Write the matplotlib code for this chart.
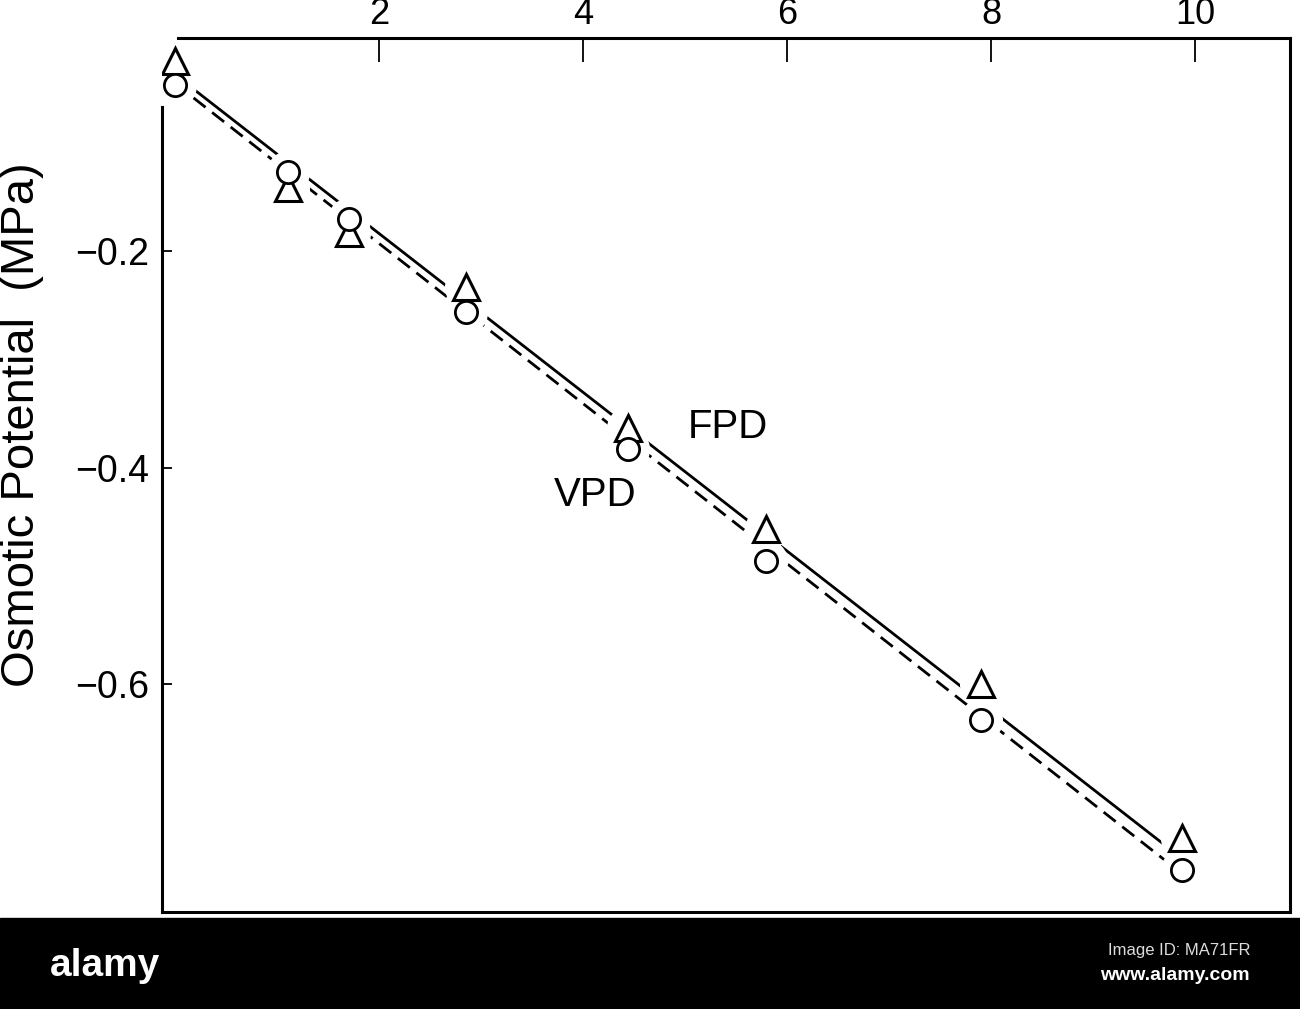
import matplotlib.pyplot as plt
from matplotlib.ticker import FixedLocator, FixedFormatter

plt.rcParams['font.family'] = ['Liberation Sans', 'DejaVu Sans']

# Points
conc = [0.0, 1.11, 1.71, 2.85, 4.44, 5.79, 7.90, 9.87]
fpd = [-0.024, -0.142, -0.183, -0.233, -0.363, -0.457, -0.600, -0.742]
vpd = [-0.047, -0.127, -0.170, -0.256, -0.383, -0.486, -0.633, -0.772]

# fitted lines (end points)
fpd_fit_x = [0.0, 9.87]
fpd_fit_y = [-0.037, -0.761]
vpd_fit_x = [0.0, 9.87]
vpd_fit_y = [-0.045, -0.775]

xticks = [2, 4, 6, 8, 10]
yticks = [-0.2, -0.4, -0.6]
ytick_labels = ['\u22120.2', '\u22120.4', '\u22120.6']

fig = plt.figure(figsize=(13, 10.09), dpi=100)
ax = fig.add_axes([0.1246, 0.0961, 0.8677, 0.8662])

ax.plot(fpd_fit_x, fpd_fit_y, color='black', lw=2.0, zorder=2)
ax.plot(vpd_fit_x, vpd_fit_y, color='black', lw=2.0, dashes=(5.5, 3), zorder=2)

# white halo around each point so the lines break there
ax.plot(conc, fpd, ls='none', marker='o', ms=30, mfc='white', mec='white', zorder=3)
ax.plot(conc, vpd, ls='none', marker='o', ms=30, mfc='white', mec='white', zorder=3)

ax.plot(conc, fpd, ls='none', marker='^', ms=19, mfc='white', mec='black', mew=2.2, zorder=4)
ax.plot(conc, vpd, ls='none', marker='o', ms=16, mfc='white', mec='black', mew=2.0, zorder=4)

ax.text(5.42, -0.3626, 'FPD', fontsize=29, ha='center', va='center')
ax.text(4.12, -0.4254, 'VPD', fontsize=29, ha='center', va='center')

ax.set_xlim(-0.127, 10.93)
ax.set_ylim(-0.8106, -0.0032)

ax.xaxis.set_ticks_position('top')
ax.xaxis.set_major_locator(FixedLocator(xticks))
ax.tick_params(axis='x', direction='in', length=17, width=1.3, pad=4, labelsize=26)
ax.yaxis.set_major_locator(FixedLocator(yticks))
ax.yaxis.set_major_formatter(FixedFormatter(ytick_labels))
ax.tick_params(axis='y', direction='in', length=7, width=1.3, pad=9, labelsize=27)

for s in ax.spines.values():
    s.set_linewidth(2.2)
ax.spines['left'].set_bounds(-0.8106, -0.067)
ax.spines['top'].set_bounds(0.03, 10.93)

fig.text(0.017, 0.5788, 'Osmotic Potential  (MPa)', rotation=90, fontsize=34,
         ha='center', va='center')

# stock photo banner at the bottom
fig.patches.append(plt.Rectangle((0, 0), 1, 91 / 1009, transform=fig.transFigure,
                                 color='black', zorder=0))
fig.text(50 / 1300, 1 - 966 / 1009, 'alamy', color='white', fontsize=28,
         fontweight='bold', ha='left', va='center', fontstretch='condensed')
fig.text(1250 / 1300, 1 - 951 / 1009, 'Image ID: MA71FR', color='#dddddd',
         fontsize=12, ha='right', va='center')
fig.text(1250 / 1300, 1 - 975 / 1009, 'www.alamy.com', color='white',
         fontsize=14, fontweight='bold', ha='right', va='center')

fig.savefig('out.png', dpi=100)
